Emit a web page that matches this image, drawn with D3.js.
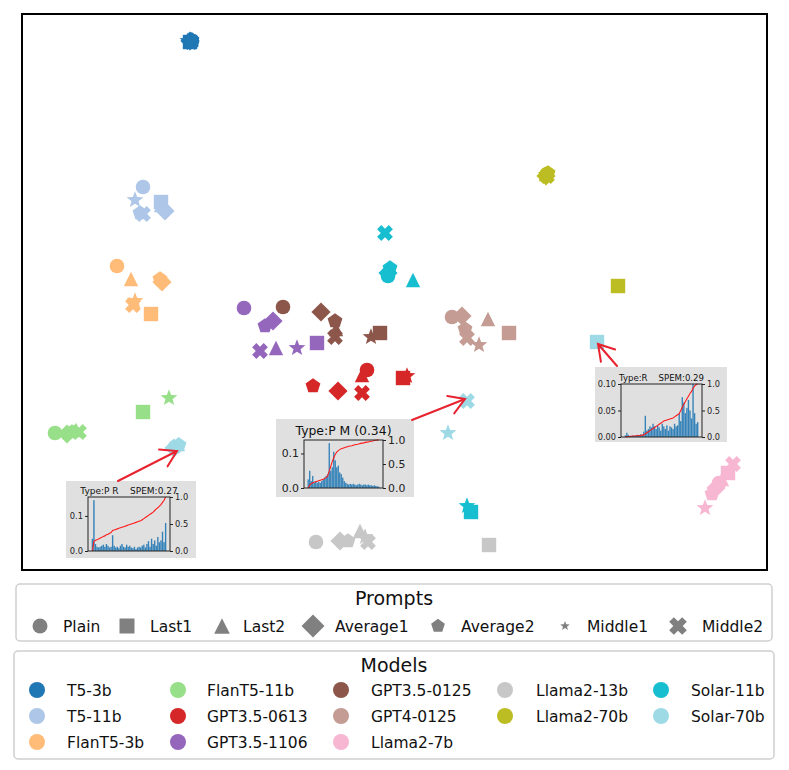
<!DOCTYPE html>
<html><head><meta charset="utf-8">
<script src="https://cdn.jsdelivr.net/npm/d3@7"></script>
<style>body{margin:0;background:#fff;} svg{display:block;font-family:"DejaVu Sans",sans-serif;}</style>
</head><body><svg id="c" width="789" height="770"></svg>
<script>
// ---------------- DATA ----------------
const models = ["T5-3b","T5-11b","FlanT5-3b","FlanT5-11b","GPT3.5-0613","GPT3.5-1106","GPT3.5-0125","GPT4-0125","Llama2-7b","Llama2-13b","Llama2-70b","Solar-11b","Solar-70b"];
const modelColors = ["#1f77b4","#aec7e8","#ffbb78","#98df8a","#d62728","#9467bd","#8c564b","#c49c94","#f7b6d2","#c7c7c7","#bcbd22","#17becf","#9edae5"];
const prompts = ["Plain","Last1","Last2","Average1","Average2","Middle1","Middle2"];
// embedding coordinates, one [x, y] per prompt (order as in prompts)
const ptsT5_3b      = [[34.0,105.8],[33.6,105.6],[33.8,106.2],[33.6,105.8],[34.0,106.0],[33.2,105.8],[33.8,105.6]];
const ptsT5_11b     = [[24.2,76.6],[27.8,73.6],[27.8,73.0],[28.6,71.8],[23.6,71.4],[22.6,74.0],[24.2,71.2]];
const ptsFlanT5_3b  = [[19.0,60.8],[25.8,51.2],[21.8,58.2],[28.0,57.6],[27.6,58.2],[22.6,53.8],[22.2,53.0]];
const ptsFlanT5_11b = [[6.6,27.4],[24.2,31.6],[10.8,28.0],[9.0,27.2],[10.0,27.6],[29.4,34.4],[11.4,27.6]];
const ptsGPT35_0613 = [[69.0,40.0],[76.2,38.4],[68.0,39.0],[63.2,35.8],[58.2,36.8],[77.0,38.8],[68.0,35.4]];
const ptsGPT35_1106 = [[44.4,52.4],[59.0,45.4],[50.8,44.4],[50.2,49.8],[48.6,48.8],[55.0,44.4],[47.6,43.8]];
const ptsGPT35_0125 = [[52.2,52.6],[71.6,47.4],[62.8,48.2],[59.8,51.6],[62.6,49.8],[69.8,46.6],[62.6,46.6]];
const ptsGPT4_0125  = [[86.0,50.6],[97.4,47.4],[93.2,50.2],[88.0,50.8],[88.6,48.2],[91.4,45.0],[89.0,46.4]];
const ptsLlama2_7b  = [[139.4,17.4],[141.2,19.4],[140.0,18.2],[138.8,16.4],[138.0,15.2],[136.6,12.4],[142.2,21.2]];
const ptsLlama2_13b = [[58.8,5.6],[93.4,5.0],[67.6,7.8],[63.6,5.8],[65.2,5.8],[68.6,6.6],[69.2,5.6]];
const ptsLlama2_70b = [[105.0,79.2],[119.2,56.8],[104.8,79.2],[104.8,78.8],[105.2,79.4],[104.8,79.0],[105.0,78.8]];
const ptsSolar_11b  = [[73.2,58.8],[89.8,11.6],[78.2,58.0],[73.2,59.4],[73.6,60.4],[89.0,12.8],[72.6,67.4]];
const ptsSolar_70b  = [[30.6,24.6],[115.0,45.6],[31.2,25.2],[30.4,24.4],[31.4,25.0],[85.2,27.4],[89.0,33.8]];
const modelPoints = [ptsT5_3b,ptsT5_11b,ptsFlanT5_3b,ptsFlanT5_11b,ptsGPT35_0613,ptsGPT35_1106,ptsGPT35_0125,ptsGPT4_0125,ptsLlama2_7b,ptsLlama2_13b,ptsLlama2_70b,ptsSolar_11b,ptsSolar_70b];

// inset 1: Type:P R
const inset1Title = "Type:P R    SPEM:0.27";
const inset1Bars = [0.035,0.145,0.02,0.012,0.01,0.012,0.015,0.018,0.012,0.02,0.015,0.01,0.012,0.045,0.015,0.01,0.012,0.008,0.015,0.02,0.012,0.01,0.018,0.012,0.015,0.01,0.008,0.012,0.005,0.01,0.012,0.01,0.015,0.018,0.01,0.02,0.028,0.012,0.035,0.02,0.03,0.015,0.04,0.025,0.03,0.055,0.025,0.08];
const inset1Line = [0,0.18,0.2,0.21,0.22,0.24,0.25,0.27,0.28,0.3,0.31,0.33,0.34,0.38,0.39,0.4,0.41,0.42,0.43,0.44,0.45,0.46,0.47,0.48,0.49,0.5,0.51,0.52,0.53,0.54,0.55,0.56,0.58,0.6,0.62,0.64,0.66,0.68,0.7,0.72,0.75,0.78,0.8,0.83,0.86,0.9,0.94,1.0];
const inset1LeftTicks = [0,0.1];
// inset 2: Type:P M
const inset2Title = "Type:P M (0.34)";
const inset2Bars = [0.025,0.05,0.02,0.035,0.015,0.02,0.015,0.018,0.015,0.02,0.025,0.03,0.035,0.04,0.13,0.05,0.06,0.105,0.08,0.06,0.065,0.045,0.04,0.03,0.02,0.015,0.012,0.01,0.012,0.01,0.012,0.01,0.008,0.01,0.012,0.01,0.008,0.01,0.01,0.008,0.01,0.008,0.008,0.006,0.008,0.006,0.005,0.004];
const inset2Line = [0,0.06,0.09,0.11,0.12,0.13,0.14,0.15,0.16,0.17,0.18,0.2,0.22,0.26,0.35,0.45,0.55,0.63,0.7,0.75,0.78,0.8,0.82,0.83,0.84,0.85,0.86,0.87,0.875,0.88,0.89,0.9,0.905,0.91,0.92,0.93,0.935,0.94,0.95,0.955,0.96,0.97,0.975,0.98,0.99,0.995,1.0,1.0];
const inset2LeftTicks = [0,0.1];
// inset 3: Type:R
const inset3Title = "Type:R    SPEM:0.29";
const inset3Bars = [0.003,0.008,0.004,0.002,0.002,0.003,0.002,0.003,0.004,0.003,0.005,0.004,0.01,0.04,0.012,0.015,0.02,0.018,0.025,0.02,0.015,0.022,0.018,0.012,0.025,0.02,0.015,0.022,0.012,0.02,0.018,0.015,0.025,0.02,0.022,0.045,0.03,0.075,0.065,0.045,0.055,0.07,0.05,0.035,0.1,0.045,0.025,0.028];
const inset3Line = [0,0.005,0.01,0.012,0.015,0.018,0.02,0.022,0.025,0.028,0.03,0.035,0.04,0.06,0.08,0.1,0.12,0.14,0.16,0.18,0.2,0.22,0.24,0.26,0.28,0.3,0.31,0.32,0.33,0.34,0.35,0.36,0.38,0.4,0.42,0.44,0.5,0.56,0.62,0.67,0.72,0.77,0.82,0.86,0.92,0.96,0.99,1.0];
const inset3LeftTicks = [0,0.05,0.1];
const rightTicks = [0,0.5,1.0];

// ---------------- DRAW ----------------
const svg = d3.select("#c");
const x = d3.scaleLinear().domain([0,149]).range([22,767]);
const y = d3.scaleLinear().domain([0,111.2]).range([570,14]);

// custom marker shapes (size = r^2)
const shp = {
  circle:{draw(c,s){const r=Math.sqrt(s);c.moveTo(r,0);c.arc(0,0,r,0,2*Math.PI);}},
  square:{draw(c,s){const r=Math.sqrt(s);c.rect(-r,-r,2*r,2*r);}},
  triangle:{draw(c,s){const r=Math.sqrt(s);c.moveTo(0,-r);c.lineTo(r,r);c.lineTo(-r,r);c.closePath();}},
  diamond:{draw(c,s){const r=Math.sqrt(s);c.moveTo(0,-r);c.lineTo(r,0);c.lineTo(0,r);c.lineTo(-r,0);c.closePath();}},
  pentagon:{draw(c,s){const r=Math.sqrt(s);for(let k=0;k<5;k++){const a=-Math.PI/2+k*2*Math.PI/5;const px=r*Math.cos(a),py=r*Math.sin(a);k?c.lineTo(px,py):c.moveTo(px,py);}c.closePath();}},
  star:{draw(c,s){const r=Math.sqrt(s);for(let k=0;k<10;k++){const a=-Math.PI/2+k*Math.PI/5;const rr=k%2?r*0.42:r;const px=rr*Math.cos(a),py=rr*Math.sin(a);k?c.lineTo(px,py):c.moveTo(px,py);}c.closePath();}},
  xfill:{draw(c,s){const L=Math.sqrt(s),a=L*0.36;const p=[[a,-L],[a,-a],[L,-a],[L,a],[a,a],[a,L],[-a,L],[-a,a],[-L,a],[-L,-a],[-a,-a],[-a,-L]];const ca=Math.SQRT1_2;p.forEach((q,k)=>{const px=(q[0]-q[1])*ca,py=(q[0]+q[1])*ca;k?c.lineTo(px,py):c.moveTo(px,py);});c.closePath();}}
};
const promptShape = ["circle","square","triangle","diamond","pentagon","star","xfill"];
const promptR = [7.3,7.2,7.2,9.6,7.8,8.8,8.2];
const legendR = [7.5,7.5,7.8,11.5,7.2,5,9.2];

// points
const pg = svg.append("g");
models.forEach((m,mi)=>{
  modelPoints[mi].forEach((p,pi)=>{
    pg.append("path")
      .attr("d", d3.symbol().type(shp[promptShape[pi]]).size(promptR[pi]*promptR[pi])())
      .attr("transform",`translate(${x(p[0])},${y(p[1])})`)
      .attr("fill", modelColors[mi]);
  });
});

// frame
svg.append("rect").attr("x",x(0)).attr("y",y(111.2)).attr("width",x(149)-x(0)).attr("height",y(0)-y(111.2))
  .attr("fill","none").attr("stroke","#000").attr("stroke-width",2);

// arrows
function arrow(x0,y0,x1,y1){
  const ang=Math.atan2(y0-y1,x0-x1), L=18, d=0.55;
  const p=d3.path();
  p.moveTo(x0,y0);p.lineTo(x1,y1);
  p.moveTo(x1+L*Math.cos(ang+d),y1+L*Math.sin(ang+d));p.lineTo(x1,y1);p.lineTo(x1+L*Math.cos(ang-d),y1+L*Math.sin(ang-d));
  svg.append("path").attr("d",p.toString()).attr("fill","none").attr("stroke","#e8232f").attr("stroke-width",2).attr("stroke-linecap","round");
}

function inset(c){
  const g=svg.append("g");
  g.append("rect").attr("x",c.bx).attr("y",c.by).attr("width",c.bw).attr("height",c.bh).attr("fill","#e0e0e0");
  g.append("text").attr("x",(c.px0+c.px1)/2).attr("y",c.ty).attr("text-anchor","middle")
    .attr("font-size",c.tfs).attr("fill","#111").style("white-space","pre").text(c.title);
  const pad=(c.px1-c.px0)*0.045;
  const xb=d3.scaleBand().domain(d3.range(c.bars.length)).range([c.px0+pad,c.px1-pad]).paddingInner(0.12);
  const yl=d3.scaleLinear().domain([0,c.ymax]).range([c.py1,c.py0]);
  const yr=d3.scaleLinear().domain([0,1]).range([c.py1,c.py0]);
  g.selectAll(".b").data(c.bars).join("rect").attr("x",(d,i)=>xb(i)).attr("width",xb.bandwidth())
    .attr("y",d=>yl(d)).attr("height",d=>c.py1-yl(d)).attr("fill","#1f77b4").attr("fill-opacity",0.9);
  g.append("path").datum(c.line).attr("d",d3.line().x((d,i)=>xb(i)+xb.bandwidth()/2).y(d=>yr(d)))
    .attr("fill","none").attr("stroke","#ff1a1a").attr("stroke-width",1.1);
  g.append("rect").attr("x",c.px0).attr("y",c.py0).attr("width",c.px1-c.px0).attr("height",c.py1-c.py0)
    .attr("fill","none").attr("stroke","#222").attr("stroke-width",1);
  const la=g.append("g").attr("transform",`translate(${c.px0},0)`)
    .call(d3.axisLeft(yl).tickValues(c.lticks).tickFormat(d3.format(c.lfmt)).tickSize(3).tickPadding(2));
  const ra=g.append("g").attr("transform",`translate(${c.px1},0)`)
    .call(d3.axisRight(yr).tickValues(rightTicks).tickFormat(d3.format(".1f")).tickSize(3).tickPadding(2));
  [la,ra].forEach(a=>{a.select(".domain").remove();a.selectAll("text").attr("font-size",c.fs).attr("font-family","DejaVu Sans").attr("fill","#222");a.selectAll("line").attr("stroke","#222");});
}

inset({bx:66,by:481,bw:130,bh:77,px0:88,px1:170,py0:497,py1:551,ty:493.5,tfs:9,fs:8.3,title:inset1Title,bars:inset1Bars,line:inset1Line,ymax:0.154,lticks:inset1LeftTicks,lfmt:".1f"});
inset({bx:276,by:419,bw:138,bh:78,px0:304,px1:383,py0:440,py1:488,ty:435,tfs:12.4,fs:10.9,title:inset2Title,bars:inset2Bars,line:inset2Line,ymax:0.139,lticks:inset2LeftTicks,lfmt:".1f"});
inset({bx:595,by:367,bw:132,bh:75,px0:621,px1:702,py0:384,py1:437,ty:381,tfs:8.6,fs:8.2,title:inset3Title,bars:inset3Bars,line:inset3Line,ymax:0.1,lticks:inset3LeftTicks,lfmt:".2f"});

// arrows from insets to Solar-70b points
arrow(118,481, x(ptsSolar_70b[0][0])+2, y(ptsSolar_70b[0][1])+4);
arrow(412,420, x(ptsSolar_70b[6][0])-2, y(ptsSolar_70b[6][1])-2);
arrow(617,366, x(ptsSolar_70b[1][0])+1, y(ptsSolar_70b[1][1])+2);

// ---------------- LEGENDS ----------------
const lg = svg.append("g");
lg.append("rect").attr("x",16).attr("y",584).attr("width",756).attr("height",57).attr("rx",4)
  .attr("fill","#fff").attr("stroke","#cfcfcf").attr("stroke-width",1.5);
lg.append("text").attr("x",394).attr("y",605).attr("text-anchor","middle").attr("font-size",19).attr("fill","#111").text("Prompts");
const pMarkX = [40,127,222,313,438,565,678];
const pTextX = [63,150,243,335,461,587,702];
prompts.forEach((p,i)=>{
  lg.append("path").attr("d",d3.symbol().type(shp[promptShape[i]]).size(legendR[i]*legendR[i])())
    .attr("transform",`translate(${pMarkX[i]},626)`).attr("fill","#808080");
  lg.append("text").attr("x",pTextX[i]).attr("y",631.5).attr("font-size",15.5).attr("fill","#111").text(p);
});

lg.append("rect").attr("x",14).attr("y",651).attr("width",760).attr("height",108).attr("rx",4)
  .attr("fill","#fff").attr("stroke","#cfcfcf").attr("stroke-width",1.5);
lg.append("text").attr("x",394).attr("y",672).attr("text-anchor","middle").attr("font-size",19).attr("fill","#111").text("Models");
const colMarkX = [37,178,341,505,661];
const colTextX = [67,207,371,536,691];
const rowY = [690,716,742];
models.forEach((m,i)=>{
  const col = i<9 ? Math.floor(i/3) : 3+Math.floor((i-9)/2);
  const row = i<9 ? i%3 : (i-9)%2;
  lg.append("path").attr("d",d3.symbol().type(shp.circle).size(64)())
    .attr("transform",`translate(${colMarkX[col]},${rowY[row]})`).attr("fill",modelColors[i]);
  lg.append("text").attr("x",colTextX[col]).attr("y",rowY[row]+5.5).attr("font-size",15.5).attr("fill","#111").text(m);
});
</script></body></html>
